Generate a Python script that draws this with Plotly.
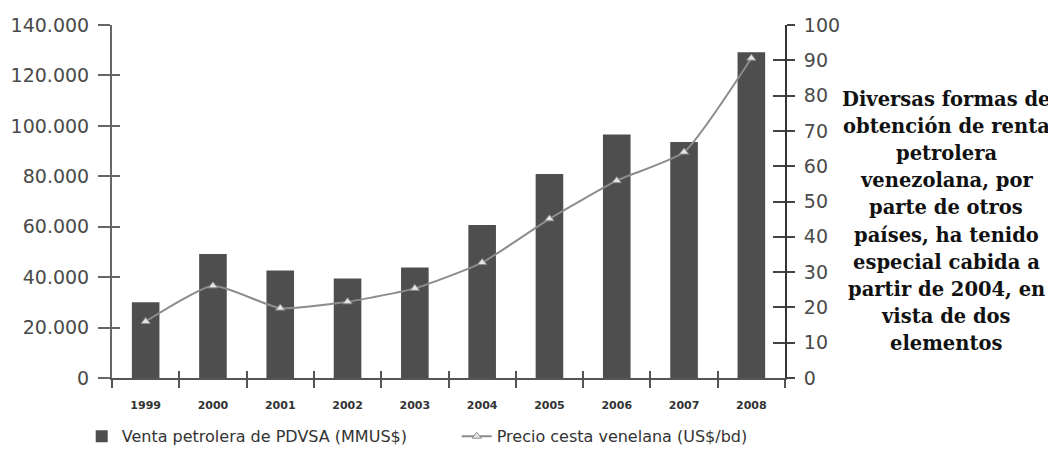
import plotly.graph_objects as go

years = ["1999", "2000", "2001", "2002", "2003", "2004", "2005", "2006", "2007", "2008"]
ventas_pdvsa = [30000, 49200, 42600, 39500, 43800, 60700, 80900, 96600, 93600, 129200]
precio_cesta = [16.0, 26.1, 19.8, 21.6, 25.4, 32.7, 45.1, 55.9, 64.0, 90.6]
left_ticks = [0, 20000, 40000, 60000, 80000, 100000, 120000, 140000]
right_ticks = [0, 10, 20, 30, 40, 50, 60, 70, 80, 90, 100]
note_lines = ["Diversas formas de", "obtención de renta", "petrolera", "venezolana, por",
              "parte de otros", "países, ha tenido", "especial cabida a", "partir de 2004, en",
              "vista de dos", "elementos"]

fig = go.Figure()
fig.add_trace(go.Bar(
    x=years, y=ventas_pdvsa, name="Venta petrolera de PDVSA (MMUS$)",
    marker=dict(color="#4e4e4e", line=dict(width=0)), width=0.41,
    xaxis="x", yaxis="y",
))
fig.add_trace(go.Scatter(
    x=years, y=precio_cesta, name="Precio cesta venelana (US$/bd)",
    mode="lines+markers", line=dict(color="#8c8c8c", width=2, shape="spline", smoothing=0.5),
    marker=dict(symbol="triangle-up", size=8, color="#e6e6e6", line=dict(color="#8c8c8c", width=1)),
    xaxis="x", yaxis="y2",
))
# invisible helper traces so the inner halves of the crossing tick marks get drawn
fig.add_trace(go.Scatter(x=years, y=ventas_pdvsa, mode="markers", marker=dict(opacity=0),
                         showlegend=False, hoverinfo="skip", xaxis="x2", yaxis="y3"))
fig.add_trace(go.Scatter(x=years, y=precio_cesta, mode="markers", marker=dict(opacity=0),
                         showlegend=False, hoverinfo="skip", xaxis="x2", yaxis="y4"))

tickfont = dict(family="DejaVu Sans, sans-serif", size=19, color="#4a4a4a")

# page body adds an 8px offset, so the figure is 8px smaller and margins shifted
W, H = 1048, 449
L, R, T, B = 104, 271, 16.5, 78.5
plot_w = W - L - R
plot_h = H - T - B

annotations = []
line_gap = 27.2
center_y_px = 221.5 - 8  # block centre in figure pixels
n = len(note_lines)
for i, ln in enumerate(note_lines):
    y_px = center_y_px + (i - (n - 1) / 2) * line_gap
    annotations.append(dict(
        text=ln, xref="paper", yref="paper",
        x=(946 - 8 - L) / plot_w, y=(H - B - y_px) / plot_h,
        xanchor="center", yanchor="middle", showarrow=False,
        font=dict(family="DejaVu Serif, serif", size=19.5, color="#111111", weight="bold"),
    ))

fig.update_layout(
    width=W, height=H,
    margin=dict(l=L, r=R, t=T, b=B, autoexpand=False),
    paper_bgcolor="white", plot_bgcolor="white",
    separators=",.",
    showlegend=True,
    legend=dict(orientation="h", x=-0.045, y=-0.117, xanchor="left", yanchor="top",
                font=dict(family="DejaVu Sans, sans-serif", size=16, color="#333333"),
                entrywidth=330, entrywidthmode="pixels", itemwidth=30, tracegroupgap=0),
    xaxis=dict(type="category", categoryarray=years, range=[-0.5, 9.5],
               showline=True, linecolor="#555555", linewidth=2,
               ticks="outside", tickson="boundaries", ticklen=8, tickcolor="#555555", tickwidth=1.5,
               tickfont=dict(family="DejaVu Sans, sans-serif", size=11, color="#333333", weight="bold"),
               ticklabelstandoff=16,
               showgrid=False, zeroline=False, fixedrange=True),
    yaxis=dict(range=[0, 140000], tickvals=left_ticks, tickformat=",d",
               showline=True, linecolor="#666666", linewidth=2,
               ticks="outside", ticklen=12, tickcolor="#666666", tickwidth=1.5,
               tickfont=tickfont, ticklabelstandoff=5,
               showgrid=False, zeroline=False),
    yaxis2=dict(range=[0, 100], tickvals=right_ticks, overlaying="y", side="right",
                showline=True, linecolor="#333333", linewidth=2,
                ticks="outside", ticklen=8, tickcolor="#444444", tickwidth=1.5,
                tickfont=tickfont, ticklabelstandoff=5,
                showgrid=False, zeroline=False),
    yaxis3=dict(range=[0, 140000], tickvals=left_ticks, overlaying="y", side="left",
                showline=False, ticks="inside", ticklen=8, tickcolor="#666666", tickwidth=1.5,
                showticklabels=False, showgrid=False, zeroline=False, anchor="x"),
    yaxis4=dict(range=[0, 100], tickvals=right_ticks, overlaying="y", side="right",
                showline=False, ticks="inside", ticklen=12, tickcolor="#444444", tickwidth=1.5,
                showticklabels=False, showgrid=False, zeroline=False, anchor="x"),
    xaxis2=dict(type="category", categoryarray=years, range=[-0.5, 9.5], overlaying="x",
                side="bottom", showline=False, ticks="inside", tickson="boundaries", ticklen=7,
                tickcolor="#555555", tickwidth=1.5, showticklabels=False, showgrid=False,
                zeroline=False, anchor="y"),
    annotations=annotations,
)

fig.write_html("out.html")
